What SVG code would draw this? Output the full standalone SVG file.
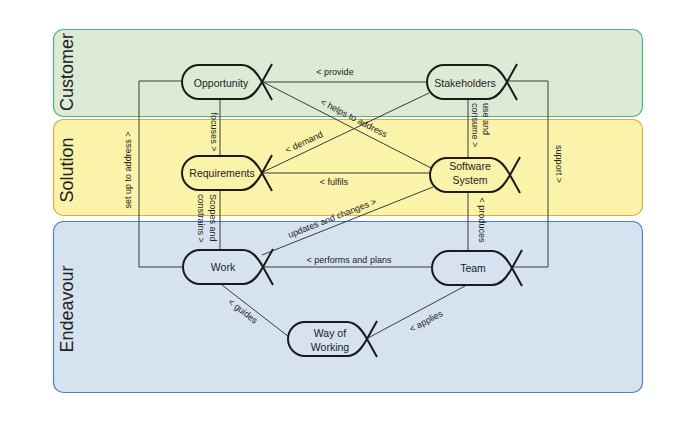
<svg xmlns="http://www.w3.org/2000/svg" width="697" height="423" viewBox="0 0 697 423">
<style>
.lane-t{font-family:"Liberation Sans",Arial,sans-serif;font-size:18px;fill:#222;text-anchor:middle}
.node path{fill:none;stroke:#1a1a1a;stroke-width:2}
.node text{font-family:"Liberation Sans",Arial,sans-serif;font-size:10.5px;fill:#222;text-anchor:middle}
.conn line,.conn polyline{stroke:#3a3a3a;stroke-width:1;fill:none}
.lbl{font-family:"Liberation Sans",Arial,sans-serif;font-size:9px;fill:#222}
.m{text-anchor:middle}
</style>
<rect width="697" height="423" fill="#ffffff"/>
<g id="lanes">
  <rect x="53.5" y="29.5" width="589" height="87" rx="10" fill="#dcebd6" stroke="#4fb384" stroke-width="1.2"/>
  <rect x="53.5" y="119.5" width="589" height="96" rx="10" fill="#fbf3aa" stroke="#ddae3e" stroke-width="1.2"/>
  <rect x="53.5" y="221.5" width="589" height="171" rx="10" fill="#d6e2ef" stroke="#4f80c6" stroke-width="1.2"/>
  <text class="lane-t" transform="translate(73,72) rotate(-90)">Customer</text>
  <text class="lane-t" transform="translate(73,170) rotate(-90)">Solution</text>
  <text class="lane-t" transform="translate(73,309) rotate(-90)">Endeavour</text>
</g>
<g class="conn" id="connectors">
  <line x1="263" y1="82" x2="426" y2="82"/>
  <line x1="263" y1="82" x2="431" y2="168"/>
  <line x1="263" y1="172" x2="429" y2="93"/>
  <line x1="263" y1="173" x2="430" y2="173"/>
  <line x1="262" y1="255" x2="433" y2="187"/>
  <line x1="263" y1="267" x2="432" y2="267"/>
  <line x1="222" y1="285" x2="289" y2="337"/>
  <line x1="465" y1="286" x2="368" y2="338"/>
  <line x1="220" y1="99" x2="220" y2="156"/>
  <line x1="220" y1="190" x2="220" y2="249"/>
  <line x1="468" y1="100" x2="468" y2="158"/>
  <line x1="468" y1="193" x2="468" y2="251"/>
  <polyline points="182,81 139,81 139,267 182,267"/>
  <polyline points="507,81 548,81 548,267 512,267"/>
  <text class="lbl m" x="335" y="75">&lt; provide</text>
  <text class="lbl m" x="334" y="185">&lt; fulfils</text>
  <text class="lbl m" x="349" y="263">&lt; performs and plans</text>
  <text class="lbl m" transform="translate(354,118) rotate(27.2)" dy="0.35em">&lt; helps to address</text>
  <text class="lbl m" transform="translate(304,142) rotate(-25)" dy="0.35em">&lt; demand</text>
  <text class="lbl m" transform="translate(332,218) rotate(-21.4)" dy="0.35em">updates and changes &gt;</text>
  <text class="lbl m" transform="translate(243,311) rotate(38)" dy="0.35em">&lt; guides</text>
  <text class="lbl m" transform="translate(426,321) rotate(-28)" dy="0.35em">&lt; applies</text>
  <text class="lbl m" transform="translate(210.5,132) rotate(90)">focuses &gt;</text>
  <text class="lbl" transform="translate(210,194) rotate(90)"><tspan x="0" y="0">Scopes and</tspan><tspan x="0" y="12">constrains &gt;</tspan></text>
  <text class="lbl" transform="translate(482.5,103) rotate(90)"><tspan x="0" y="0">use and</tspan><tspan x="0" y="11">consume &gt;</tspan></text>
  <text class="lbl m" transform="translate(479,220) rotate(90)">&lt; produces</text>
  <text class="lbl m" transform="translate(555.5,164) rotate(90)">support &gt;</text>
  <text class="lbl m" transform="translate(131,170) rotate(-90)">set up to address &gt;</text>
</g>
<g class="node" id="opportunity">
  <path d="M272,100 L262,82 C258,74.8 252,65 242,65 H199 A17,17 0 0 0 199,99 H242 C252,99 258,89.2 262,82 L272,64"/>
  <text x="221" y="86.5">Opportunity</text>
</g>
<g class="node" id="stakeholders">
  <path d="M517,100 L507,82 C503,74.8 497,65 487,65 H444 A17,17 0 0 0 444,99 H487 C497,99 503,89.2 507,82 L517,64"/>
  <text x="465" y="86.5">Stakeholders</text>
</g>
<g class="node" id="requirements">
  <path d="M272,191 L262,173 C258,165.8 252,156 242,156 H199 A17,17 0 0 0 199,190 H242 C252,190 258,180.2 262,173 L272,155"/>
  <text x="222" y="177">Requirements</text>
</g>
<g class="node" id="software-system">
  <path d="M520,193 L510,175 C506,167.8 500,158 490,158 H447 A17,17 0 0 0 447,192 H490 C500,192 506,182.2 510,175 L520,157"/>
  <text x="470" y="170">Software</text>
  <text x="470" y="184">System</text>
</g>
<g class="node" id="work">
  <path d="M273,285 L263,267 C259,259.8 253,250 243,250 H200 A17,17 0 0 0 200,284 H243 C253,284 259,274.2 263,267 L273,249"/>
  <text x="223" y="271">Work</text>
</g>
<g class="node" id="team">
  <path d="M522,286 L512,268 C508,260.8 502,251 492,251 H449 A17,17 0 0 0 449,285 H492 C502,285 508,275.2 512,268 L522,250"/>
  <text x="473" y="272">Team</text>
</g>
<g class="node" id="way-of-working">
  <path d="M377,357 L367,339 C363,331.8 357,322 347,322 H305 A17,17 0 0 0 305,356 H347 C357,356 363,346.2 367,339 L377,321"/>
  <text x="330" y="337">Way of</text>
  <text x="330" y="351">Working</text>
</g>
</svg>
